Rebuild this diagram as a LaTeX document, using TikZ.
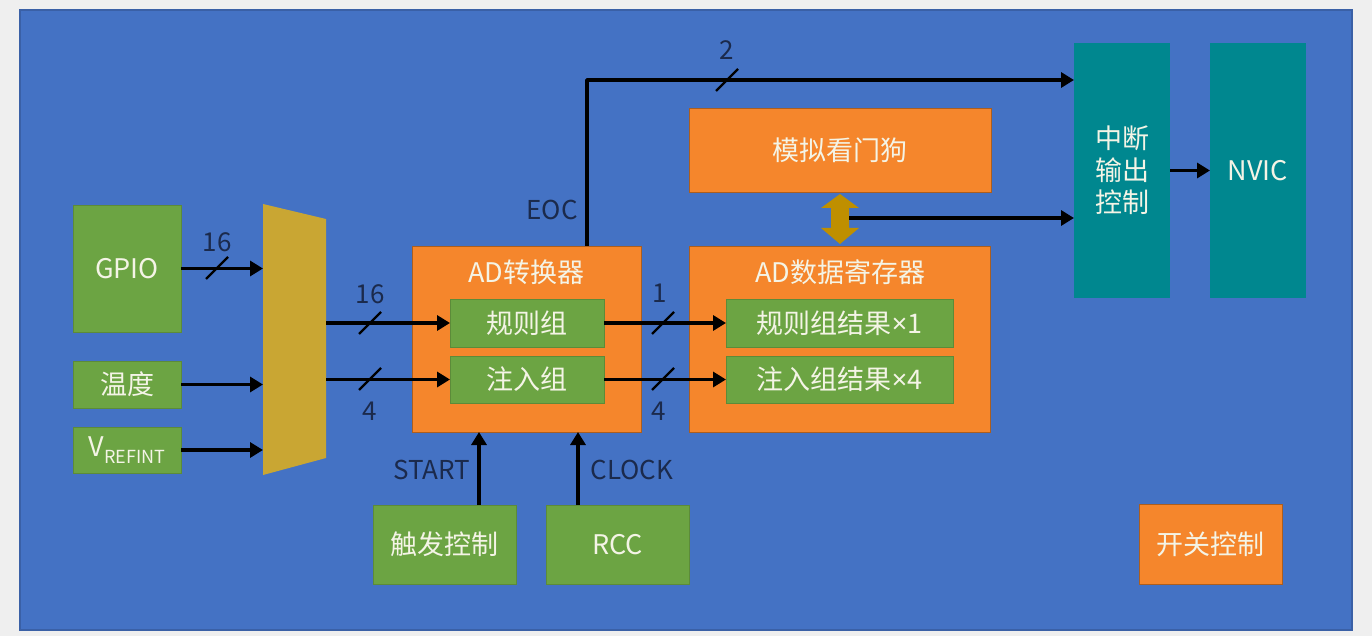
\documentclass[tikz,border=0pt]{standalone}
\usepackage{fontspec}
\setmainfont{Noto Sans CJK SC}
\newfontfamily\latinx{Noto Sans}
\usetikzlibrary{arrows.meta,calc}
\definecolor{pagebg}{HTML}{EFEFEF}
\definecolor{bgblue}{HTML}{4472C4}
\definecolor{bgedge}{HTML}{3A60A6}
\definecolor{pgreen}{HTML}{6CA443}
\definecolor{porange}{HTML}{F5862C}
\definecolor{pteal}{HTML}{00878F}
\definecolor{pgold}{HTML}{C9A633}
\definecolor{dgold}{HTML}{BF8F00}
\definecolor{txt}{HTML}{F4F4E6}
\definecolor{lbl}{HTML}{1B2A4C}
\tikzset{
  box/.style={anchor=north west, inner sep=0pt, outer sep=0pt, text=txt,
    font=\fontsize{27}{32}\selectfont, align=center},
  gbox/.style={box, fill=pgreen, draw=pgreen!85!black, line width=0.8pt},
  obox/.style={box, fill=porange, draw=porange!70!black, line width=0.8pt},
  tbox/.style={box, fill=pteal},
  title/.style={text=txt, font=\fontsize{27}{32}\selectfont, inner sep=0pt},
  arr/.style={line width=3.6pt, -{Triangle[length=13pt,width=15pt]}},
  slash/.style={line width=2.2pt},
  lab/.style={text=lbl, font=\fontsize{26}{30}\selectfont, inner sep=0pt},
}
\begin{document}
\begin{tikzpicture}[x=1pt,y=-1pt]
\useasboundingbox (0,0) rectangle (1372,636);
\fill[pagebg] (0,0) rectangle (1372,636);
\filldraw[fill=bgblue, draw=bgedge, line width=1.5pt] (20,10) rectangle (1352,630);

% input boxes
\node[gbox, minimum width=108pt, minimum height=127pt] (gpio) at (73,205) {GPIO};
\node[gbox, minimum width=108pt, minimum height=47pt] (temp) at (73,361) {温度};
\node[gbox, minimum width=108pt, minimum height=46pt] (vref) at (73,427)
  {V\raisebox{-0.28em}{\fontsize{18}{20}\selectfont REFINT}};

% multiplexer
\fill[pgold] (263,204) -- (326,219) -- (326,458) -- (263,475) -- cycle;
\coordinate (muxL) at (263,340);
\coordinate (muxR) at (326,340);

% AD converter
\node[obox, minimum width=229pt, minimum height=186pt] (adc) at (412,246) {};
\node[title] (adct) at (526,272) {AD转换器};
\node[gbox, minimum width=154pt, minimum height=48pt] (gz) at (450,299) {规则组};
\node[gbox, minimum width=154pt, minimum height=47pt] (jz) at (450,356) {注入组};

% AD data register
\node[obox, minimum width=301pt, minimum height=186pt] (adr) at (689,246) {};
\node[title] (adrt) at (840,272) {AD数据寄存器};
\node[gbox, minimum width=227pt, minimum height=48pt] (gzr) at (726,299) {规则组结果{\latinx ×}1};
\node[gbox, minimum width=227pt, minimum height=47pt] (jzr) at (726,356) {注入组结果{\latinx ×}4};

% watchdog
\node[obox, minimum width=302pt, minimum height=84pt] (wdg) at (689,108) {模拟看门狗};

% interrupt + NVIC
\node[tbox, minimum width=96pt, minimum height=255pt] (irq) at (1074,43) {中断\\输出\\控制};
\node[tbox, minimum width=96pt, minimum height=255pt] (nvic) at (1210,43) {NVIC};

% bottom boxes
\node[gbox, minimum width=143pt, minimum height=79pt] (trig) at (373,505) {触发控制};
\node[gbox, minimum width=143pt, minimum height=79pt] (rcc) at (546,505) {RCC};
\node[obox, minimum width=143pt, minimum height=80pt] (sw) at (1139,504) {开关控制};

% double arrow between watchdog and data register
\fill[dgold] (840,194) -- (859,208) -- (849,208) -- (849,228) -- (859,228) -- (840,244)
  -- (821,228) -- (831,228) -- (831,208) -- (821,208) -- cycle;

% connectors
\draw[arr] (gpio.east) -- (gpio.east -| muxL);
\draw[arr] (temp.east) -- (temp.east -| muxL);
\draw[arr] (vref.east) -- (vref.east -| muxL);
\draw[arr] (gz.west -| muxR) -- (gz.west);
\draw[arr] (jz.west -| muxR) -- (jz.west);
\draw[arr] (gz.east) -- (gzr.west);
\draw[arr] (jz.east) -- (jzr.west);

\coordinate (eocx) at (587,80);
\draw[arr, line join=round] (adc.north -| eocx) |- (irq.west |- eocx);
\coordinate (wdl) at (849,218);
\draw[arr] (wdl) -- (wdl -| irq.west);
\draw[arr] (irq.east) -- (nvic.west);

\coordinate (stx) at (479,0);
\coordinate (ckx) at (578,0);
\draw[arr] (trig.north -| stx) -- (adc.south -| stx);
\draw[arr] (rcc.north -| ckx) -- (adc.south -| ckx);

% bus slashes
\foreach \x/\y in {217/268, 370/323, 370/379, 663/323, 663/379, 727/80}
  \draw[slash] (\x-11,\y+11) -- (\x+11,\y-11);

% labels
\node[lab] (l16a) at (217,242) {16};
\node[lab] (l16b) at (370,294) {16};
\node[lab] (l4a) at (370,411) {4};
\node[lab] (l1) at (660,293) {1};
\node[lab] (l4b) at (659,411) {4};
\node[lab] (l2) at (727,50) {2};
\node[lab] (leoc) at (552,210) {EOC};
\node[lab] (lstart) at (432,470) {START};
\node[lab] (lclock) at (632,470) {CLOCK};
\end{tikzpicture}
\end{document}
